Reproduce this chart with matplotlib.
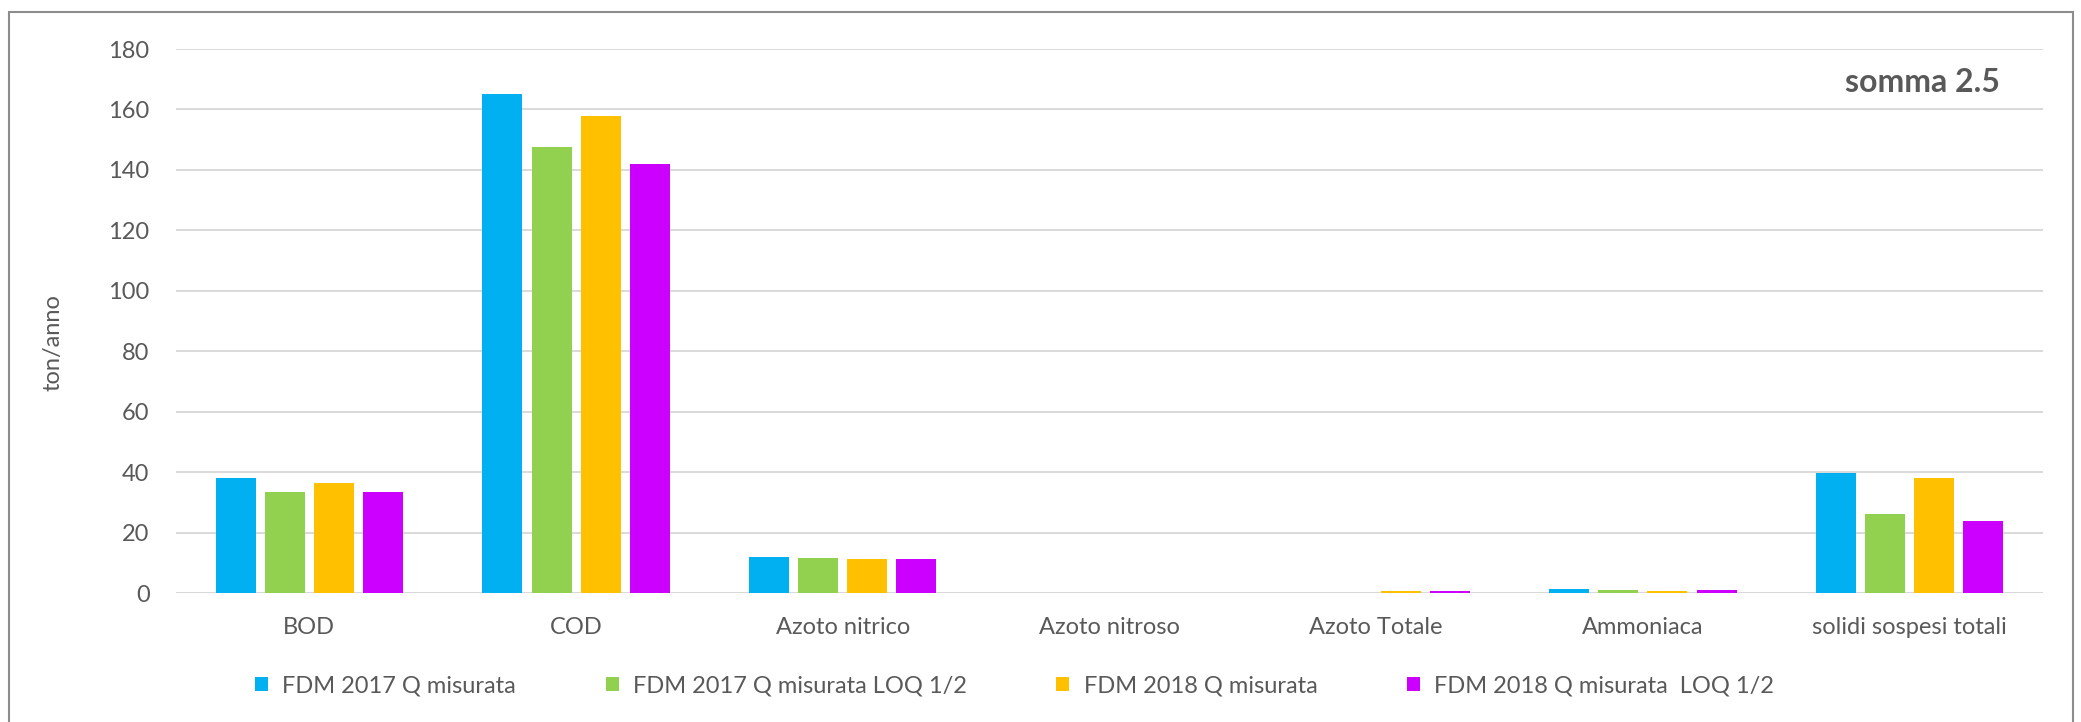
import numpy as np
import matplotlib.pyplot as plt
from matplotlib.patches import Rectangle

categories = ["BOD", "COD", "Azoto nitrico", "Azoto nitroso", "Azoto Totale",
              "Ammoniaca", "solidi sospesi totali"]
series_names = ["FDM 2017 Q misurata", "FDM 2017 Q misurata LOQ 1/2",
                "FDM 2018 Q misurata", "FDM 2018 Q misurata  LOQ 1/2"]
fdm2017 = [38.2, 165.2, 11.8, 0.1, 0.05, 1.2, 39.8]
fdm2017_loq = [33.4, 147.5, 11.7, 0.1, 0.05, 1.1, 26.3]
fdm2018 = [36.4, 157.8, 11.2, 0.1, 0.6, 0.8, 38.2]
fdm2018_loq = [33.3, 141.9, 11.2, 0.1, 0.7, 0.9, 23.7]
colors = ["#00B0F0", "#92D050", "#FFC000", "#CC00FF"]

plt.rcParams['font.family'] = ['Lato', 'DejaVu Sans']
grey = "#595959"

fig = plt.figure(figsize=(20.81, 7.22), dpi=100)
ax = fig.add_axes([176/2081, 1-593/722, (2043-176)/2081, (593-49)/722])

x = np.arange(len(categories))
width = 0.15
step = 0.184
data = [fdm2017, fdm2017_loq, fdm2018, fdm2018_loq]
handles = []
for i, vals in enumerate(data):
    b = ax.bar(x + (i - 1.5) * step, vals, width, color=colors[i],
               label=series_names[i], zorder=3)
    handles.append(b)

ax.set_xlim(-0.5, len(categories) - 0.5)
ax.set_ylim(0, 180)
ax.set_yticks(range(0, 181, 20))
ax.set_xticks(x)
ax.set_xticklabels(categories)
ax.yaxis.grid(True, color="#d9d9d9", linewidth=1.4, zorder=0)
for s in ax.spines.values():
    s.set_visible(False)
ax.axhline(0, color="#d9d9d9", linewidth=1.4, zorder=2)
ax.tick_params(axis='both', length=0, labelsize=17, colors=grey)
ax.tick_params(axis='x', pad=17)
ax.tick_params(axis='y', pad=19)
ax.set_ylabel("ton/anno", fontsize=17, color=grey)
ax.yaxis.set_label_coords(-0.0659, 0.461)
ax.yaxis.label.set_va('center')

ax.text(2000/2081, 1-82/722, "somma 2.5", transform=fig.transFigure,
        ha='right', va='center', fontsize=23, fontweight='bold', color=grey)

leg = fig.legend(handles=handles, loc='center left',
                 bbox_to_anchor=(255/2081, 1-686/722), ncol=4, frameon=False,
                 fontsize=17, handlelength=0.55, handleheight=0.55,
                 handletextpad=0.6, columnspacing=3.8, borderpad=0,
                 borderaxespad=0)
for t in leg.get_texts():
    t.set_color(grey)

fig.patches.append(Rectangle((9/2081, -0.01), (2073-9)/2081, 1.01-12/722,
                             transform=fig.transFigure, fill=False,
                             edgecolor="#8c8c8c", linewidth=1.5))

fig.savefig("out.png", dpi=100)
